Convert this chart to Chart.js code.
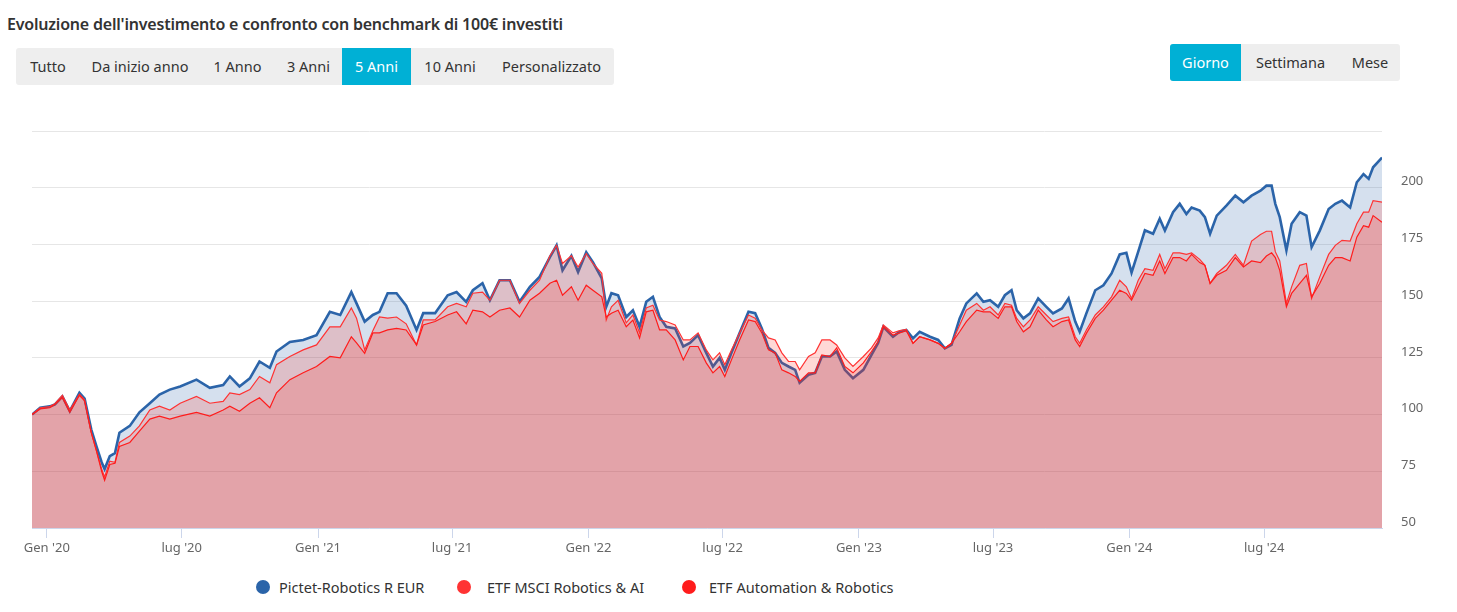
<!DOCTYPE html>
<html>
<head>
<meta charset="utf-8">
<script src="https://cdn.jsdelivr.net/npm/chart.js@4"></script>
<style>
  body { margin: 0; background: #fff; font-family: 'Noto Sans', sans-serif; color: #333; }
  #title { position: absolute; left: 7px; top: 13px; font-size: 16px; font-weight: 600; color: #333; letter-spacing: -0.2px; white-space: nowrap; }
  .group { position: absolute; display: flex; background: #eeeeee; border-radius: 3px; overflow: hidden; height: 37px; }
  .group div { line-height: 37px; text-align: center; font-size: 14.5px; color: #333; white-space: nowrap; }
  .group div.on { background: #00b0d5; color: #fff; }
  #wrap { position: absolute; left: 0; top: 100px; }
  #legend { position: absolute; top: 577px; left: 0; width: 1457px; height: 20px; font-size: 14.5px; color: #333; }
  #legend .dot { position: absolute; top: 3px; width: 14px; height: 14px; border-radius: 50%; }
  #legend .txt { position: absolute; top: 0; line-height: 20px; white-space: nowrap; }
</style>
</head>
<body>
<div id="title">Evoluzione dell'investimento e confronto con benchmark di 100€ investiti</div>
<div class="group" id="periods" style="left:16px; top:48px;"></div>
<div class="group" id="freq" style="left:1170px; top:44px;"></div>
<div id="wrap"><canvas id="myChart" width="1457" height="470"></canvas></div>
<div id="legend"></div>

<script>
// periods / frequency buttons
var periodLabels = ['Tutto', 'Da inizio anno', '1 Anno', '3 Anni', '5 Anni', '10 Anni', 'Personalizzato'];
var periodWidths = [64, 120, 75, 67, 69, 78, 125];
var freqLabels = ['Giorno', 'Settimana', 'Mese'];
var freqWidths = [71, 99, 60];

// series names
var seriesNames = ['Pictet-Robotics R EUR', 'ETF MSCI Robotics & AI', 'ETF Automation & Robotics'];

// x axis ticks
var tickDates = ['2020-01-01', '2020-07-01', '2021-01-01', '2021-07-01', '2022-01-01', '2022-07-01', '2023-01-01', '2023-07-01', '2024-01-01', '2024-07-01'];
var tickLabels = ["Gen '20", "lug '20", "Gen '21", "lug '21", "Gen '22", "lug '22", "Gen '23", "lug '23", "Gen '24", "lug '24"];

var dates = [
'2019-12-12','2019-12-23','2020-01-05','2020-01-12','2020-01-22','2020-02-01','2020-02-14','2020-02-21','2020-03-01','2020-03-08',
'2020-03-15','2020-03-19','2020-03-26','2020-04-02','2020-04-08','2020-04-22','2020-05-05','2020-05-19','2020-06-01','2020-06-15',
'2020-06-29','2020-07-21','2020-08-08','2020-08-26','2020-09-04','2020-09-17','2020-10-01','2020-10-14','2020-10-28','2020-11-06',
'2020-11-24','2020-12-12','2020-12-30','2021-01-17','2021-01-31','2021-02-15','2021-02-22','2021-03-05','2021-03-16','2021-03-25',
'2021-04-05','2021-04-17','2021-04-30','2021-05-14','2021-05-23','2021-06-08','2021-06-25','2021-07-07','2021-07-20','2021-07-29',
'2021-08-11','2021-08-21','2021-09-03','2021-09-17','2021-09-30','2021-10-14','2021-10-27','2021-11-10','2021-11-19','2021-11-27',
'2021-12-09','2021-12-18','2021-12-29','2022-01-07','2022-01-19','2022-01-25','2022-02-01','2022-02-10','2022-02-21','2022-03-02',
'2022-03-11','2022-03-20','2022-03-29','2022-04-07','2022-04-16','2022-04-28','2022-05-09','2022-05-18','2022-05-29','2022-06-09',
'2022-06-18','2022-06-27','2022-07-04','2022-07-13','2022-07-24','2022-08-05','2022-08-14','2022-08-23','2022-09-01','2022-09-10',
'2022-09-19','2022-09-28','2022-10-07','2022-10-13','2022-10-25','2022-11-03','2022-11-12','2022-11-23','2022-12-02','2022-12-13',
'2022-12-24','2023-01-07','2023-01-18','2023-01-27','2023-02-03','2023-02-16','2023-02-25','2023-03-06','2023-03-15','2023-03-24',
'2023-04-07','2023-04-18','2023-04-27','2023-05-06','2023-05-17','2023-05-26','2023-06-09','2023-06-18','2023-06-27','2023-07-08',
'2023-07-17','2023-07-26','2023-08-02','2023-08-11','2023-08-20','2023-08-31','2023-09-11','2023-09-20','2023-10-02','2023-10-11',
'2023-10-20','2023-10-26','2023-11-04','2023-11-16','2023-11-27','2023-12-08','2023-12-19','2023-12-28','2024-01-04','2024-01-13',
'2024-01-22','2024-02-02','2024-02-11','2024-02-18','2024-02-29','2024-03-09','2024-03-18','2024-03-25','2024-04-05','2024-04-12',
'2024-04-19','2024-04-28','2024-05-11','2024-05-23','2024-06-03','2024-06-14','2024-06-26','2024-07-04','2024-07-11','2024-07-16',
'2024-07-22','2024-07-31','2024-08-07','2024-08-18','2024-08-27','2024-09-03','2024-09-14','2024-09-26','2024-10-05','2024-10-14',
'2024-10-25','2024-11-03','2024-11-12','2024-11-19','2024-11-25','2024-12-07'
];

var pictet = [
100,103,103.6,104.5,108,101.5,109.6,107,93.4,86,
79,76,81.7,83,92,95,101,105,108.8,111,
112.4,115.4,111.8,113,116.8,112.4,116,123.4,120.6,127.8,
132,132.9,135,145.3,143.9,154,149,141,143.9,145.3,
153.5,153.5,148,137.3,144.7,144.7,152.6,154,149.7,154.8,
157.9,150.4,159.2,159.2,149.7,156.3,160.7,169.4,174.6,163.6,
170,162.8,171.6,167.2,160,147.5,153.5,152.6,143,146,
138.7,149.7,151.9,143,138.7,138,130,131.6,135,127.2,
121.2,125,119.7,127.2,136,145.3,144.7,138,129.4,127.2,
122.8,121.2,119.7,114,117.5,118.4,125.6,125.6,127.8,119.7,
116,119.7,126.3,131.6,138.7,134.3,136.5,137.3,133.6,136.5,
134.3,132.9,129.2,130.7,142.4,149,153.4,149.7,150.4,147.5,
152.6,154.8,146,142.4,144.6,151.2,147.5,144.6,146.8,151.2,
141,136.5,144.6,154.8,157,162.2,170.6,171.3,162.6,171.8,
181.2,179.7,186.3,181.1,189.2,192.9,188.4,191.3,189.9,187,
179.7,187.7,192.1,196.5,193.6,196.5,198.7,200.9,200.9,192.9,
187,172.4,184.1,189.2,187.7,173.8,181.1,190.6,192.9,194.3,
191.3,202.4,206,203.9,209,213.3
];

var msciRobotics = [
100,103,103.5,104.8,108.5,102,109,106.5,92,84,
76,72.5,79.5,79,87.7,90.5,95,102,103.7,102,
105,108,105,105.8,109.6,108.8,111,116.8,114,122,
125.6,128.5,130.7,138.7,138.7,147,142.5,128.5,137,143,
142.5,143,140,130.7,141.7,141.7,147.5,149,147.5,153.5,
154,150.4,159.2,159.2,149,154.8,159.2,170,174.6,166.6,
170,165,171,166.6,162.3,141.7,147.5,150.4,140.4,143.9,
136,147,148.2,141.7,141,139.5,132.9,132.9,136,128.5,
124.1,127.2,122,128.5,136,143.9,142.5,137.3,133.8,132.9,
127.2,123.4,123.4,119.7,125.6,127.2,132.9,132.9,130.7,125,
121.2,125.6,129.4,133.8,139.5,136,137,137.5,131.4,134.3,
132.9,131.4,129.2,131.4,139.5,146,149,146,147.5,143.9,
149,148.2,142.4,138.7,141.7,147.5,143.9,141,142.4,143,
134.3,131.4,137.3,143.9,147.5,151.9,159.2,156.3,151.2,159.2,
164.3,163.6,170.6,164.3,171.3,171.3,170.6,171.3,168.4,165.8,
157.8,162.2,165.8,170.6,165.8,176.5,179.4,180.8,180.8,171.8,
167.7,149,156.3,165.8,166.6,151.2,160.7,170.6,174.6,176.8,
176.5,184.1,189.2,189.2,194.3,193.6
];

var automation = [
100,102.5,103,104.5,107.5,101,108.5,106,92,84,
75,71,78,78.5,86,87.7,92.7,98,99.3,98,
99.3,101,99.3,102,103.7,101.5,105,107.4,103,109.6,
115.4,118.4,121.2,125.6,125,134.3,131.6,127,136,136,
137.3,138,137.3,130.7,139.5,141,143.9,145.3,140,146,
145.3,143,146,147,143,150.4,153.5,157.9,159.2,152.6,
156.3,150.4,157,154.8,151.9,143,144.7,146,138.7,141.7,
133.8,145.3,146,137.3,137.3,132.9,124.1,130,130,122.8,
118.4,121.2,116.8,124.1,132.9,141.7,141,136,128.5,127.2,
119.7,118.4,116.8,114.6,118.4,118.4,126.3,125.6,129.4,121.2,
118.4,122.8,127.8,132.2,138.7,135,136,137,131.4,134.3,
132.9,131.4,129.2,131.4,136.5,141,146,145.3,145.3,142.4,
147.5,147.5,141,136.5,138.7,146,141.7,138.7,141,141.7,
132.9,130,135.8,142.4,146,150.4,154.8,153.4,150.4,156.3,
162.2,161.4,167.7,162.2,169.2,169.2,167.7,170.6,167,165.8,
157.8,161.4,163.6,169.2,165.1,167.7,167,169.9,171.3,169.2,
163.6,147.5,153.4,157.8,161.4,151.9,157.8,165.8,169.2,169.2,
167.7,178.2,183.3,182.6,187.7,184.8
];

var lineColors = ['#2b64a9', '#ff3333', '#ff1c1c'];
var fillColors = ['rgba(45,100,170,0.2)', 'rgba(255,40,30,0.18)', 'rgba(255,40,30,0.18)'];

function ts(d) {
    var p = d.split('-');
    return Date.UTC(+p[0], +p[1] - 1, +p[2]);
}

function toPoints(values) {
    return values.map(function (v, i) { return { x: ts(dates[i]), y: v }; });
}

// buttons
function makeButtons(id, labels, widths, active) {
    var el = document.getElementById(id);
    labels.forEach(function (l, i) {
        var b = document.createElement('div');
        b.textContent = l;
        b.style.width = widths[i] + 'px';
        if (l === active) b.className = 'on';
        el.appendChild(b);
    });
}
makeButtons('periods', periodLabels, periodWidths, '5 Anni');
makeButtons('freq', freqLabels, freqWidths, 'Giorno');

// legend
var legendDots = [256, 457, 682];
var legendTexts = [279, 487, 709];
var legend = document.getElementById('legend');
seriesNames.forEach(function (name, i) {
    var dot = document.createElement('div');
    dot.className = 'dot';
    dot.style.left = legendDots[i] + 'px';
    dot.style.background = lineColors[i];
    legend.appendChild(dot);
    var t = document.createElement('div');
    t.className = 'txt';
    t.style.left = legendTexts[i] + 'px';
    t.textContent = name;
    legend.appendChild(t);
});

var seriesValues = [pictet, msciRobotics, automation];
var widths = [2.6, 1.2, 1.2];
var orders = [3, 2, 1];

var ctx = document.getElementById('myChart').getContext('2d');
var myChart = new Chart(ctx, {
    type: 'line',
    data: {
        datasets: seriesNames.map(function (name, i) {
            return {
                label: name,
                data: toPoints(seriesValues[i]),
                borderColor: lineColors[i],
                backgroundColor: fillColors[i],
                borderWidth: widths[i],
                fill: 'start',
                pointRadius: 0,
                tension: 0,
                order: orders[i]
            };
        })
    },
    options: {
        responsive: false,
        animation: false,
        devicePixelRatio: 1,
        layout: { padding: { top: 31, left: 32, right: 0, bottom: 0 } },
        plugins: { legend: { display: false }, tooltip: { enabled: false } },
        scales: {
            x: {
                type: 'linear',
                min: ts('2019-12-12'),
                max: ts('2024-12-07'),
                afterBuildTicks: function (scale) {
                    scale.ticks = tickDates.map(function (d) { return { value: ts(d) }; });
                },
                afterFit: function (scale) { scale.height = 42; },
                ticks: {
                    autoSkip: false,
                    maxRotation: 0,
                    padding: 2,
                    color: '#666',
                    font: { family: 'Noto Sans', size: 13 },
                    callback: function (v) {
                        var i = tickDates.map(ts).indexOf(v);
                        return i >= 0 ? tickLabels[i] : '';
                    }
                },
                grid: { drawOnChartArea: false, drawTicks: true, tickLength: 10, color: '#ccd6eb' },
                border: { color: '#ccd6eb' }
            },
            y: {
                position: 'right',
                min: 50,
                max: 225,
                afterFit: function (scale) { scale.width = 75; },
                ticks: {
                    stepSize: 25,
                    padding: 19,
                    labelOffset: -6,
                    color: '#666',
                    font: { family: 'Noto Sans', size: 13 },
                    callback: function (v) { return v === 225 ? '' : v; }
                },
                grid: { color: '#e6e6e6', drawTicks: false },
                border: { display: false }
            }
        }
    }
});
</script>
</body>
</html>
